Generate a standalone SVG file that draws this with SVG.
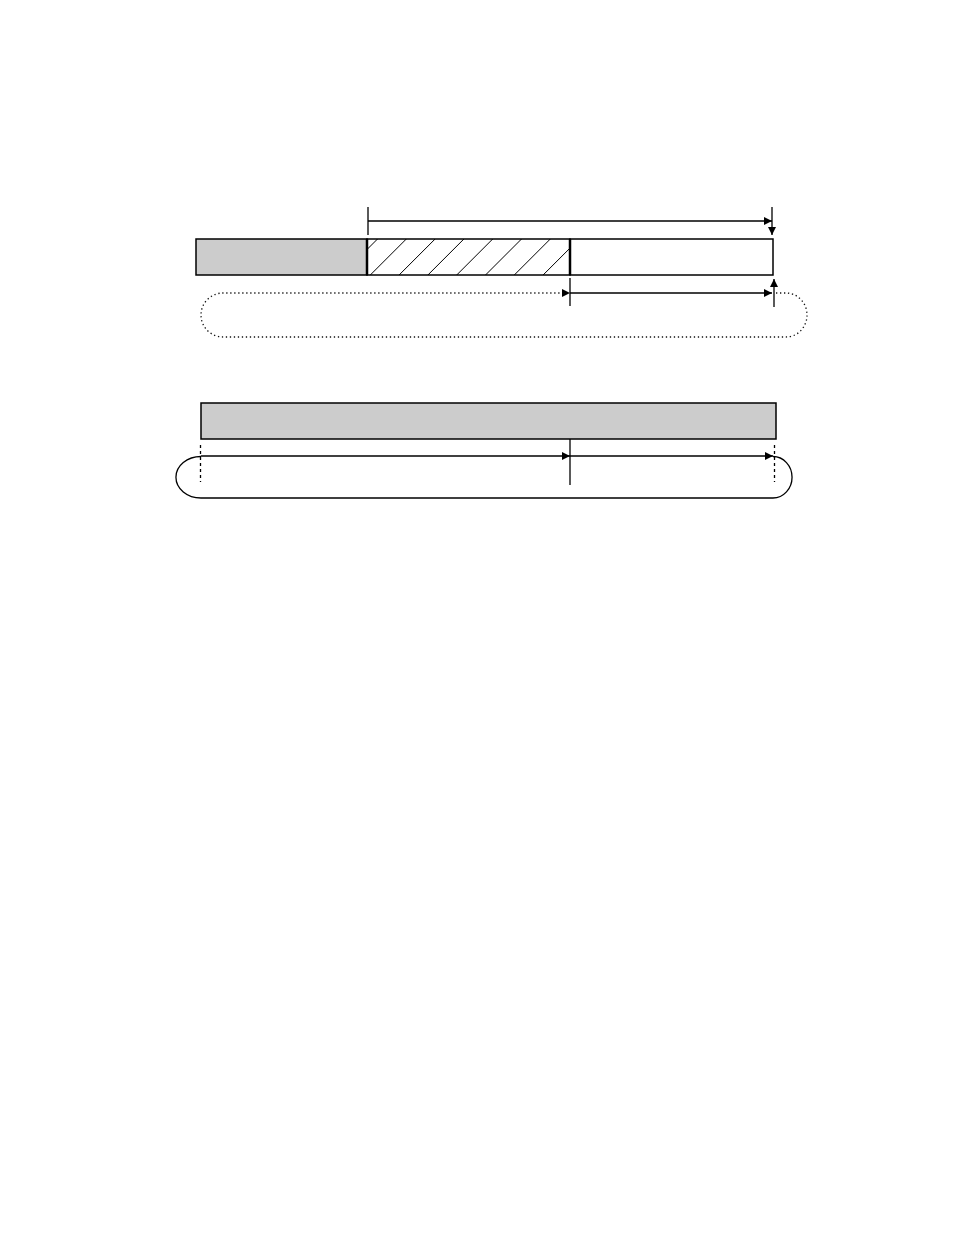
<svg xmlns="http://www.w3.org/2000/svg" width="954" height="1235" viewBox="0 0 954 1235">
<style>
.box{stroke:#000;stroke-width:1.5}
.gray{fill:#cccccc}
.ln{stroke:#000;stroke-width:1.3;fill:none}
.hatch{stroke:#000;stroke-width:1;fill:none}
.dot{stroke:#111;stroke-width:1.3;fill:none;stroke-dasharray:1.3 2.7}
.dash{stroke:#000;stroke-width:1.3;fill:none;stroke-dasharray:3 3}
</style>
<defs>
<marker id="ah" viewBox="0 0 10 10" refX="10" refY="5" markerWidth="8" markerHeight="8" markerUnits="userSpaceOnUse" orient="auto">
<path d="M0,0 L10,5 L0,10 Z" fill="#000"/>
</marker>
<clipPath id="hc"><rect x="367" y="239" width="203" height="36"/></clipPath>
</defs>
<rect width="954" height="1235" fill="#fff"/>

<g id="seg-gray">
<rect class="box gray" x="196" y="239" width="171" height="36"/>
</g>
<g id="seg-hatched">
<rect class="box" x="367" y="239" width="203" height="36" fill="#fff"/>
<g clip-path="url(#hc)" class="hatch">
<line x1="341.5" y1="275" x2="377.5" y2="239"/>
<line x1="370.3" y1="275" x2="406.3" y2="239"/>
<line x1="399.1" y1="275" x2="435.1" y2="239"/>
<line x1="427.9" y1="275" x2="463.9" y2="239"/>
<line x1="456.7" y1="275" x2="492.7" y2="239"/>
<line x1="485.5" y1="275" x2="521.5" y2="239"/>
<line x1="514.3" y1="275" x2="550.3" y2="239"/>
<line x1="543.1" y1="275" x2="579.1" y2="239"/>
</g>
<line x1="367" y1="239" x2="367" y2="275" stroke="#000" stroke-width="2.5"/>
<line x1="570" y1="239" x2="570" y2="275" stroke="#000" stroke-width="2.5"/>
</g>
<g id="seg-white">
<rect class="box" x="570" y="239" width="203" height="36" fill="none"/>
</g>
<g id="bar-bottom">
<rect class="box gray" x="201" y="403" width="575" height="36"/>
</g>

<g id="connectors">
<line class="ln" x1="368" y1="207" x2="368" y2="235"/>
<line class="ln" x1="368" y1="221" x2="772" y2="221" marker-end="url(#ah)"/>
<line class="ln" x1="772" y1="207" x2="772" y2="235" marker-end="url(#ah)"/>
<line class="ln" x1="570" y1="278" x2="570" y2="306"/>
<line class="ln" x1="570" y1="293" x2="772" y2="293" marker-end="url(#ah)"/>
<line class="ln" x1="774" y1="307" x2="774" y2="279" marker-end="url(#ah)"/>
<path class="dot" d="M776,293 H786 A21,22 0 0 1 786,337 H223 A22,22 0 0 1 223,293 H563"/>
<path d="M562,289 L570,293 L562,297 Z" fill="#000"/>

<line class="ln" x1="570" y1="439" x2="570" y2="485"/>
<path class="ln" d="M201,456 H570" marker-end="url(#ah)"/>
<path class="ln" d="M570,456 H773" marker-end="url(#ah)"/>
<path class="ln" d="M773,456.5 A19,20.7 0 0 1 773,498 H201 A25,20.7 0 0 1 201,456.5"/>
<line class="dash" x1="200.5" y1="445" x2="200.5" y2="482"/>
<line class="dash" x1="774.5" y1="445" x2="774.5" y2="482"/>
</g>
</svg>
